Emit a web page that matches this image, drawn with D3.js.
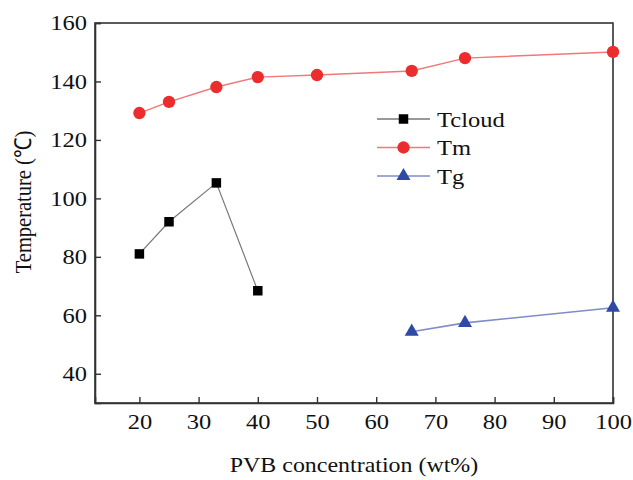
<!DOCTYPE html>
<html><head><meta charset="utf-8">
<script src="https://cdn.jsdelivr.net/npm/d3@7"></script>
<style>body{margin:0;background:#fff}svg{display:block}</style>
</head><body><svg id="c" width="633" height="480" font-family="Liberation Serif"></svg>
<script>
const xTicks=[20,30,40,50,60,70,80,90,100];
const yTicks=[40,60,80,100,120,140,160];
const tcloudX=[20,25,33,40];
const tcloudY=[81,92,105.3,68.4];
const tmX=[20,25,33,40,50,66,75,100];
const tmY=[129.2,133,138.1,141.5,142.2,143.6,148,150.1];
const tgX=[66,75,100];
const tgY=[54.4,57.4,62.6];
const seriesNames=["Tcloud","Tm","Tg"];
const FONT="Liberation Serif";
const SX=1.14, FS=21.5;

const svg=d3.select("#c");
const L=95,R=613,T=23,B=403;
const x=d3.scaleLinear().domain([12.5,100]).range([L,R]);
const y=d3.scaleLinear().domain([30,160]).range([B,T]);

svg.append("rect").attr("x",L).attr("y",T).attr("width",R-L).attr("height",B-T).attr("fill","none").attr("stroke","#333").attr("stroke-width",1.6);

const xa=svg.append("g").attr("transform",`translate(0,${B})`).call(d3.axisBottom(x).tickValues(xTicks).tickSize(-6).tickPadding(11).tickFormat(d3.format("d")));
const ya=svg.append("g").attr("transform",`translate(${L},0)`).call(d3.axisLeft(y).tickValues(yTicks).tickSize(-6).tickPadding(8).tickFormat(d3.format("d")));
[xa,ya].forEach(a=>{a.attr("font-family",FONT).attr("font-size",FS);a.select(".domain").attr("stroke","#333").attr("stroke-width",1.6);a.selectAll(".tick line").attr("stroke","#333").attr("stroke-width",1.4);a.selectAll("text").attr("font-size",FS).attr("fill","#111").attr("font-family",FONT);});
xa.selectAll(".tick text").attr("transform",`scale(${SX},1)`);
ya.selectAll(".tick text").attr("x",-8/SX).attr("transform",`scale(${SX},1)`);

svg.append("text").attr("transform",`translate(${(L+R)/2},472) scale(${SX},1)`).attr("text-anchor","middle").attr("font-family",FONT).attr("font-size",21).attr("fill","#111").text("PVB concentration (wt%)");
svg.append("text").attr("transform",`translate(31,202) scale(${SX},1) rotate(-90)`).attr("text-anchor","middle").attr("font-family",FONT).attr("font-size",20.5).attr("fill","#111").text("Temperature (℃)");

const line=d3.line().x(d=>x(d[0])).y(d=>y(d[1]));
const zip=(a,b)=>a.map((v,i)=>[v,b[i]]);
const tc=zip(tcloudX,tcloudY), tm=zip(tmX,tmY), tg=zip(tgX,tgY);

const sq=d3.symbol().type(d3.symbolSquare).size(90);
const ci=d3.symbol().type(d3.symbolCircle).size(120);
const tr=d3.symbol().type(d3.symbolTriangle).size(85);

function draw(data,lc,lw,mc,sym){
  svg.append("path").datum(data).attr("d",line).attr("fill","none").attr("stroke",lc).attr("stroke-width",lw);
  svg.selectAll(null).data(data).enter().append("path").attr("d",sym).attr("fill",mc)
    .attr("transform",d=>`translate(${x(d[0])},${y(d[1])})`);
}
draw(tc,"#777",1.2,"#000",sq);
draw(tm,"#f07878",1.4,"#ec2d2d",ci);
draw(tg,"#7f8cc8",1.6,"#2e4aa6",tr);

const leg=[{c:"#777",m:"#000",s:sq},{c:"#f07878",m:"#ec2d2d",s:ci},{c:"#7f8cc8",m:"#2e4aa6",s:tr}];
leg.forEach((d,i)=>{
  const yy=119+i*28.5;
  svg.append("line").attr("x1",377).attr("x2",430).attr("y1",yy).attr("y2",yy).attr("stroke",d.c).attr("stroke-width",1.3);
  svg.append("path").attr("d",d.s).attr("fill",d.m).attr("transform",`translate(403.5,${yy})`);
  svg.append("text").attr("transform",`translate(437,${yy+7.5}) scale(${SX},1)`).attr("font-family",FONT).attr("font-size",21.5).attr("fill","#111").text(seriesNames[i]);
});
</script></body></html>
